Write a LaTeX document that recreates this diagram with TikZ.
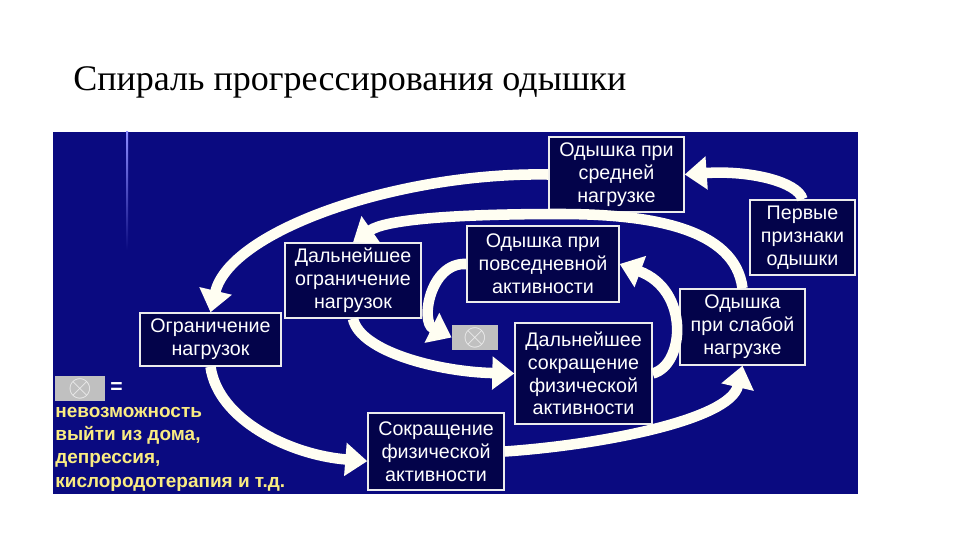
\documentclass[tikz,border=0pt]{standalone}
\usepackage{fontspec}
\setmainfont{Liberation Serif}
\newfontfamily\labelfont{Liberation Sans}
\usetikzlibrary{arrows.meta}
\definecolor{panelblue}{RGB}{10,10,128}
\definecolor{boxblue}{RGB}{3,3,74}
\definecolor{notegold}{RGB}{250,236,130}
\definecolor{crossgray}{RGB}{192,192,192}
\tikzset{
stagebox/.style={draw=white!85!gray, line width=0.8pt, fill=boxblue, text=white, align=center, inner sep=2pt, font=\labelfont\fontsize{11.2}{13}\selectfont},
spiralarrow/.style={draw=white!95!yellow, line width=6pt, -{Triangle[length=0.44cm,width=0.64cm]}},
crossbox/.style={fill=crossgray, minimum width=0.92cm, minimum height=0.5cm, inner sep=0pt, text=white!88!gray, font=\LARGE},
notetext/.style={text=notegold, align=left, inner sep=0pt, font=\labelfont\bfseries\fontsize{10.8}{13.2}\selectfont}
}
\begin{document}
\begin{tikzpicture}[x=0.02cm, y=-0.02cm]
\useasboundingbox[fill=white] (0,0) rectangle (960,540);
\node[anchor=west, inner sep=0pt, font=\fontsize{20.5}{25}\selectfont] (title) at (73,82) {Спираль прогрессирования одышки};
\fill[panelblue] (53,132) rectangle (858,494);
\shade[top color=blue!45!white, bottom color=panelblue] (126,132) rectangle (128,250);

\node[stagebox, minimum width=2.7cm, minimum height=1.5cm] (moderate) at (616.5,174.5) {Одышка при\\средней\\нагрузке};
\node[stagebox, minimum width=2.1cm, minimum height=1.5cm] (first) at (802.5,237.5) {Первые\\признаки\\одышки};
\node[stagebox, minimum width=3.04cm, minimum height=1.52cm] (daily) at (543,264) {Одышка при\\повседневной\\активности};
\node[stagebox, minimum width=2.72cm, minimum height=1.5cm] (furtherlimit) at (353,280.5) {Дальнейшее\\ограничение\\нагрузок};
\node[stagebox, minimum width=2.5cm, minimum height=1.52cm] (weak) at (742.5,327) {Одышка\\при слабой\\нагрузке};
\node[stagebox, minimum width=2.82cm, minimum height=1.06cm] (limit) at (210.5,339.5) {Ограничение\\нагрузок};
\node[stagebox, minimum width=2.74cm, minimum height=2.02cm] (furtherreduct) at (583.5,373.5) {Дальнейшее\\сокращение\\физической\\активности};
\node[stagebox, minimum width=2.72cm, minimum height=1.54cm] (reduct) at (436,451.5) {Сокращение\\физической\\активности};
\node[crossbox] (housebound) at (475,337.5) {$\otimes$};

\node[crossbox, minimum width=1.0cm] (legendkey) at (80,388.5) {$\otimes$};
\node[anchor=west, inner sep=0pt, text=white, font=\labelfont\bfseries\large] (equals) at (110,388) {=};
\node[notetext, anchor=north west] (legendnote) at (55,407) {невозможность\\выйти из дома,\\депрессия,\\кислородотерапия и т.д.};

\draw[spiralarrow] (first.north) .. controls (798,182) and (750,170) .. (moderate.east);
\draw[spiralarrow] (moderate.west) .. controls (400,172) and (230,230) .. (limit.north);
\draw[spiralarrow] (limit.south) .. controls (218,420) and (290,455) .. (reduct.188);
\draw[spiralarrow] (reduct.east) .. controls (600,445) and (730,420) .. (weak.south);
\draw[spiralarrow] (weak.north) .. controls (735,228) and (650,214) .. (560,214) .. controls (450,214) and (385,220) .. (furtherlimit.north);
\draw[spiralarrow] (furtherlimit.south) .. controls (360,352) and (440,372) .. (furtherreduct.west);
\draw[spiralarrow] (furtherreduct.east) .. controls (685,365) and (690,290) .. (daily.east);
\draw[spiralarrow] (daily.west) .. controls (430,262) and (420,322) .. (housebound.west);
\end{tikzpicture}
\end{document}
